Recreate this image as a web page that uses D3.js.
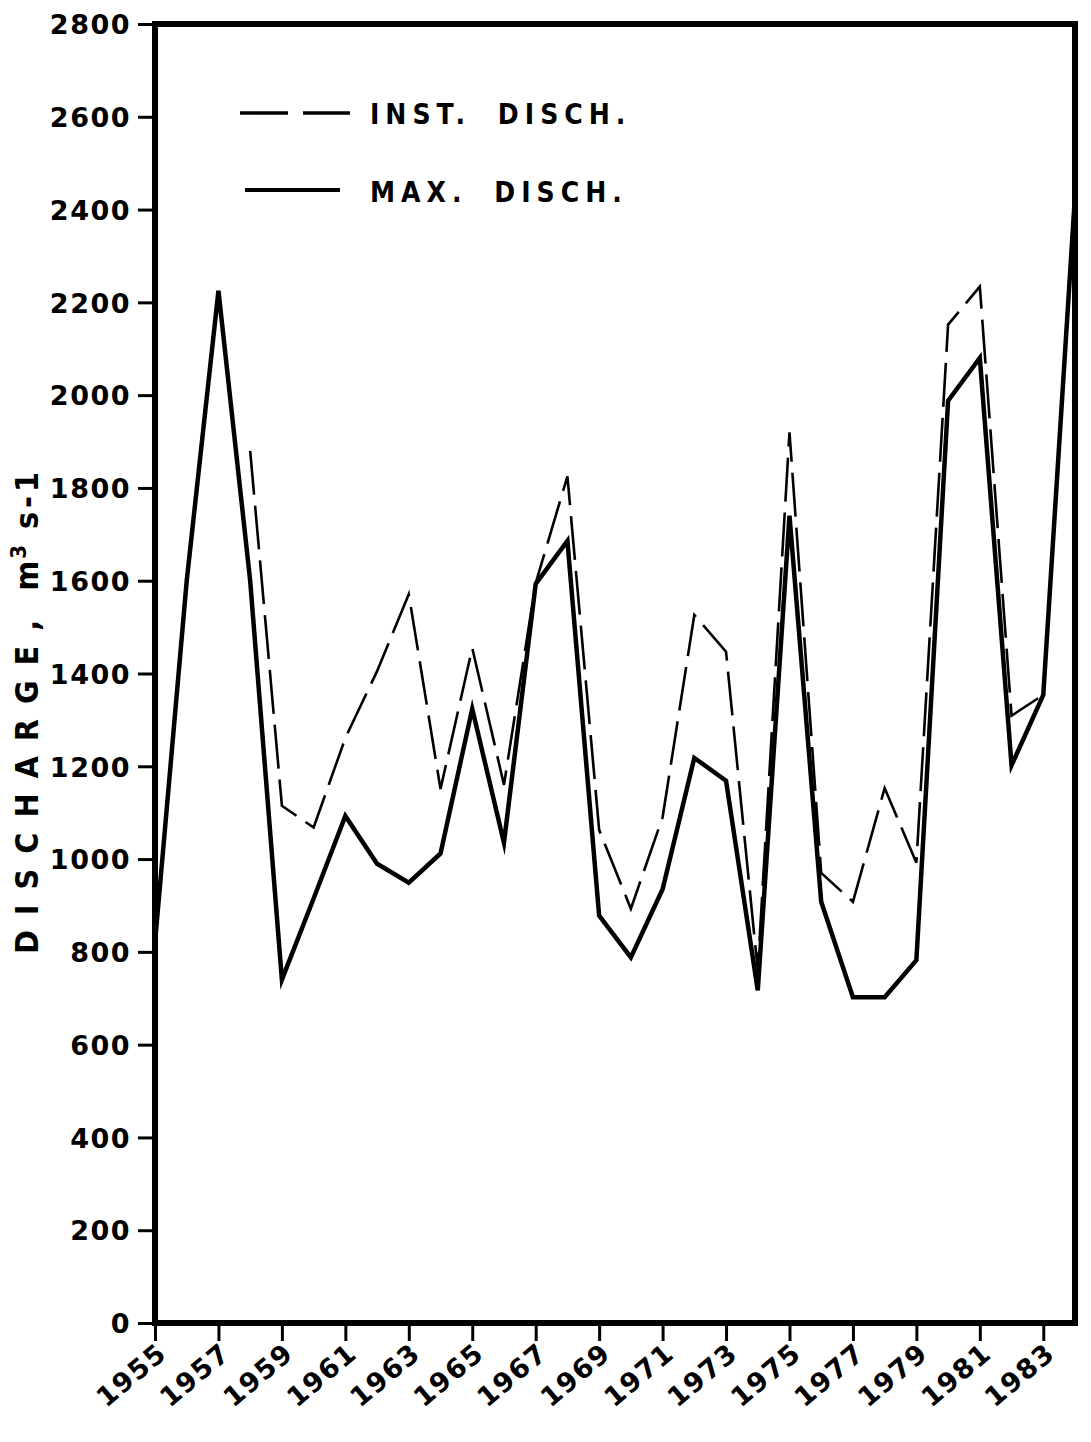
<!DOCTYPE html>
<html lang="en">
<head>
    <meta charset="UTF-8">
    <title>Discharge 1955-1984</title>
    <script src="https://d3js.org/d3.v7.min.js"></script>
    <style>
        body { margin: 0; background: #fff; }
        svg { display: block; }
        .tick-label {
            font-family: "DejaVu Sans", sans-serif;
            font-weight: bold;
            font-size: 27px;
            letter-spacing: 1.5px;
            fill: #000;
        }
        .caption {
            font-family: "DejaVu Sans Condensed", "DejaVu Sans", sans-serif;
            font-weight: bold;
            fill: #000;
        }
    </style>
</head>
<body>
<svg id="chart"></svg>
<script>
    // values (m3 s-1)
    const years = [1955, 1956, 1957, 1958, 1959, 1960, 1961, 1962, 1963, 1964,
                   1965, 1966, 1967, 1968, 1969, 1970, 1971, 1972, 1973, 1974,
                   1975, 1976, 1977, 1978, 1979, 1980, 1981, 1982, 1983, 1984];
    const maxDisch = [820, 1600, 2225, 1600, 740, 915, 1093, 990, 949, 1012,
                      1324, 1035, 1593, 1686, 878, 788, 935, 1218, 1169, 717,
                      1740, 908, 702, 702, 782, 1988, 2080, 1202, 1354, 2430];
    // no instantaneous value drawn before 1958
    const instDisch = [null, null, null, 1880, 1115, 1068, 1261, 1405, 1571, 1151,
                       1455, 1160, 1595, 1825, 1063, 893, 1090, 1526, 1447, 760,
                       1920, 970, 908, 1153, 992, 2152, 2234, 1309, 1354, 2445];
    const xTicks = [1955, 1957, 1959, 1961, 1963, 1965, 1967, 1969, 1971, 1973, 1975, 1977, 1979, 1981, 1983];
    const yTicks = [0, 200, 400, 600, 800, 1000, 1200, 1400, 1600, 1800, 2000, 2200, 2400, 2600, 2800];
    const seriesNames = ["INST. DISCH.", "MAX. DISCH."];

    const W = 1091, H = 1442;
    const margin = { top: 24, right: 16, bottom: 119, left: 155 };
    const width = W - margin.left - margin.right;
    const height = H - margin.top - margin.bottom;

    const svg = d3.select("#chart").attr("width", W).attr("height", H);
    const g = svg.append("g").attr("transform", `translate(${margin.left},${margin.top})`);

    const x = d3.scaleLinear().domain([1955, 1984]).range([0, width]);
    const y = d3.scaleLinear().domain([0, 2800]).range([height, 0]);

    // y axis ticks + labels
    const yAxis = g.append("g")
        .call(d3.axisLeft(y).tickValues(yTicks).tickSize(17).tickPadding(7).tickFormat(d3.format("d")));
    yAxis.select(".domain").remove();
    yAxis.selectAll(".tick line").attr("stroke", "#000").attr("stroke-width", 3);
    yAxis.selectAll(".tick text").attr("class", "tick-label").attr("dy", "0.36em");

    // x axis ticks + rotated labels
    const xAxis = g.append("g")
        .attr("transform", `translate(0,${height})`)
        .call(d3.axisBottom(x).tickValues(xTicks).tickSize(18).tickFormat(d3.format("d")));
    xAxis.select(".domain").remove();
    xAxis.selectAll(".tick line").attr("stroke", "#000").attr("stroke-width", 3);
    xAxis.selectAll(".tick text")
        .attr("class", "tick-label")
        .attr("text-anchor", "end")
        .attr("dx", 0)
        .attr("dy", 0)
        .attr("y", 0)
        .attr("font-size", 28)
        .attr("transform", "translate(13,33) rotate(-40)");

    // frame
    g.append("rect")
        .attr("x", 0).attr("y", 0)
        .attr("width", width).attr("height", height)
        .attr("fill", "none")
        .attr("stroke", "#000")
        .attr("stroke-width", 6);

    const line = d3.line()
        .defined(d => d != null)
        .x((d, i) => x(years[i]))
        .y(d => y(d));

    g.append("path")
        .datum(instDisch)
        .attr("d", line)
        .attr("fill", "none")
        .attr("stroke", "#000")
        .attr("stroke-width", 2.6)
        .attr("stroke-dasharray", "44,11");

    g.append("path")
        .datum(maxDisch)
        .attr("d", line)
        .attr("fill", "none")
        .attr("stroke", "#000")
        .attr("stroke-width", 4.5)
        .attr("stroke-linejoin", "miter")
        .attr("stroke-miterlimit", 6);

    // legend
    const leg = svg.append("g");
    leg.append("line")
        .attr("x1", 240).attr("x2", 350).attr("y1", 113).attr("y2", 113)
        .attr("stroke", "#000").attr("stroke-width", 3.5)
        .attr("stroke-dasharray", "48,15");
    leg.append("line")
        .attr("x1", 245).attr("x2", 340).attr("y1", 190).attr("y2", 190)
        .attr("stroke", "#000").attr("stroke-width", 4);
    leg.selectAll("text.leg")
        .data(seriesNames)
        .enter().append("text")
        .attr("class", "caption leg")
        .attr("x", 370)
        .attr("y", (d, i) => i === 0 ? 124 : 202)
        .attr("font-size", 28)
        .attr("letter-spacing", 6)
        .attr("word-spacing", 12)
        .text(d => d);

    // y axis title
    const yt = svg.append("text")
        .attr("class", "caption")
        .attr("transform", "translate(38,711) rotate(-90)")
        .attr("text-anchor", "middle")
        .attr("font-size", 32);
    yt.append("tspan").attr("letter-spacing", 15).text("DISCHARGE,");
    yt.append("tspan").attr("dx", 14).attr("letter-spacing", 2).text("m");
    yt.append("tspan").attr("dy", -12).attr("font-size", 22).text("3");
    yt.append("tspan").attr("dy", 12).attr("dx", 16).attr("letter-spacing", 4).text("s-1");
</script>
</body>
</html>
